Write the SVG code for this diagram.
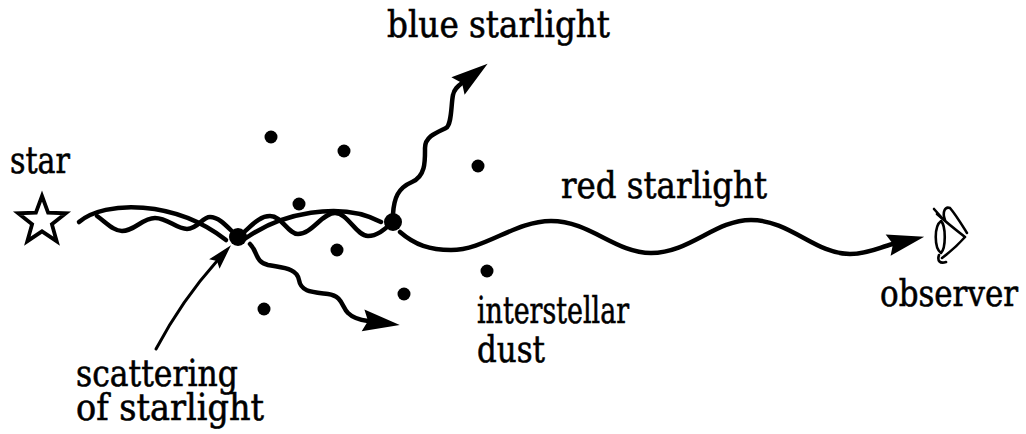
<svg xmlns="http://www.w3.org/2000/svg" width="1026" height="434" viewBox="0 0 1026 434">
  <style>
    .lbl { font-family: 'DejaVu Serif', 'Liberation Serif', serif; font-size: 37px; fill: #000; stroke: #000; stroke-width: 0.6; }
    .ray { fill: none; stroke: #000; stroke-width: 4.5; stroke-linecap: round; stroke-linejoin: round; }
    .thin { fill: none; stroke: #000; stroke-width: 3; stroke-linecap: round; }
    .dust { fill: #000; }
    .hit { fill: #000; }
    .eye { fill: none; stroke: #000; stroke-width: 2.6; stroke-linecap: round; stroke-linejoin: round; }
  </style>
  <defs>
    <marker id="arr" markerUnits="userSpaceOnUse" markerWidth="40" markerHeight="24" refX="5" refY="11" orient="auto" overflow="visible">
      <path d="M0,0 L37,11 L0,22 L5,11 z" fill="#000"/>
    </marker>
    <marker id="arrS" markerUnits="userSpaceOnUse" markerWidth="26" markerHeight="16" refX="4" refY="7" orient="auto" overflow="visible">
      <path d="M0,0 L25,7 L0,14 L4,7 z" fill="#000"/>
    </marker>
  </defs>

  <rect width="1026" height="434" fill="#fff"/>

  <!-- light paths -->
  <g id="connectors">
    <!-- unscattered arc from the star -->
    <path class="ray" d="M79,222 C105,200 175,200 226,240"/>
    <path class="ray" d="M246,238 C280,214 340,200 381,222"/>
    <!-- wavy starlight from the star -->
    <path class="ray" d="M97,216 C108,224 114,231 122,231 C135,231 142,218 155,218 C168,218 176,229 187,229 C198,229 202,217 210,217 C220,217 228,228 238,237"/>
    <path class="ray" d="M238,237 C250,228 258,216 270,216 C282,216 288,234 298,234 C312,234 322,213 335,213 C348,213 356,236 368,236 C378,236 386,228 393,222"/>
    <!-- scattered downward ray -->
    <path class="ray" marker-end="url(#arr)" d="M250,244 C258,252 255,262 268,265 C283,268 297,268 299,280 C301,292 312,292 328,294 C343,296 342,308 348,313 C353,318 360,320 368,321"/>
    <!-- blue starlight -->
    <path class="ray" marker-end="url(#arr)" d="M393,214 C394,198 398,188 412,182 C426,176 425,160 425,148 C425,136 438,132 446,128 C452,124 451,104 453,95 C454,89 458,86 462,83"/>
    <!-- red starlight -->
    <path class="ray" marker-end="url(#arr)" d="M400,232 C415,245 430,250 451,250 C485,250 515,221 551,221 C590,221 615,253 651,253 C690,253 715,220 751,220 C790,220 815,254 850,254 C868,254 880,247 893,244"/>
    <!-- pointer to the scattering event -->
    <path class="thin" marker-end="url(#arrS)" d="M156,349 Q182,300 217,261"/>
  </g>

  <!-- star -->
  <g id="star">
    <polygon points="42,196 48.1,212.6 65.8,213.3 51.9,224.2 56.7,241.2 42,231.4 27.3,241.2 32.1,224.2 18.2,213.3 35.9,212.6" fill="#fff" stroke="#000" stroke-width="3.8" stroke-linejoin="miter"/>
  </g>

  <!-- interstellar dust grains -->
  <g id="dust-grains">
    <circle class="dust" cx="271" cy="137" r="6.5"/>
    <circle class="dust" cx="344" cy="151" r="6.5"/>
    <circle class="dust" cx="478" cy="166" r="6.5"/>
    <circle class="dust" cx="299" cy="204" r="6.5"/>
    <circle class="dust" cx="337" cy="250" r="6.5"/>
    <circle class="dust" cx="487" cy="271" r="6.5"/>
    <circle class="dust" cx="404" cy="294" r="6.5"/>
    <circle class="dust" cx="264" cy="309" r="6.5"/>
  </g>

  <!-- scattering events -->
  <g id="scatter-1"><circle class="hit" cx="238" cy="237" r="9"/></g>
  <g id="scatter-2"><circle class="hit" cx="393" cy="222" r="9"/></g>

  <!-- observer's eye, seen side-on -->
  <g id="eye">
    <path class="eye" d="M937,214 C946,222 956,230 965,237 C958,245 950,252 942,258"/>
    <path class="eye" d="M941,221 C934,226 934,248 941,253 C946,248 946,226 941,221 z"/>
    <path class="eye" d="M945,220 C942,212 945,206 950,208 C956,215 962,225 967,233"/>
    <path class="eye" d="M939,255 C937,261 940,264 946,262"/>
    <path class="eye" d="M934,209 L942,218"/>
  </g>

  <!-- labels -->
  <g id="label-star"><text class="lbl" x="10" y="173" textLength="60" lengthAdjust="spacingAndGlyphs">star</text></g>
  <g id="label-blue"><text class="lbl" x="387" y="37" textLength="223" lengthAdjust="spacingAndGlyphs">blue starlight</text></g>
  <g id="label-red"><text class="lbl" x="561" y="198" textLength="206" lengthAdjust="spacingAndGlyphs">red starlight</text></g>
  <g id="label-observer"><text class="lbl" x="880" y="306" textLength="138" lengthAdjust="spacingAndGlyphs">observer</text></g>
  <g id="label-dust">
    <text class="lbl" x="477" y="323" textLength="152" lengthAdjust="spacingAndGlyphs">interstellar</text>
    <text class="lbl" x="477" y="362" textLength="68" lengthAdjust="spacingAndGlyphs">dust</text>
  </g>
  <g id="label-scattering">
    <text class="lbl" x="76" y="386" textLength="162" lengthAdjust="spacingAndGlyphs">scattering</text>
    <text class="lbl" x="76" y="420" textLength="188" lengthAdjust="spacingAndGlyphs">of starlight</text>
  </g>
</svg>
